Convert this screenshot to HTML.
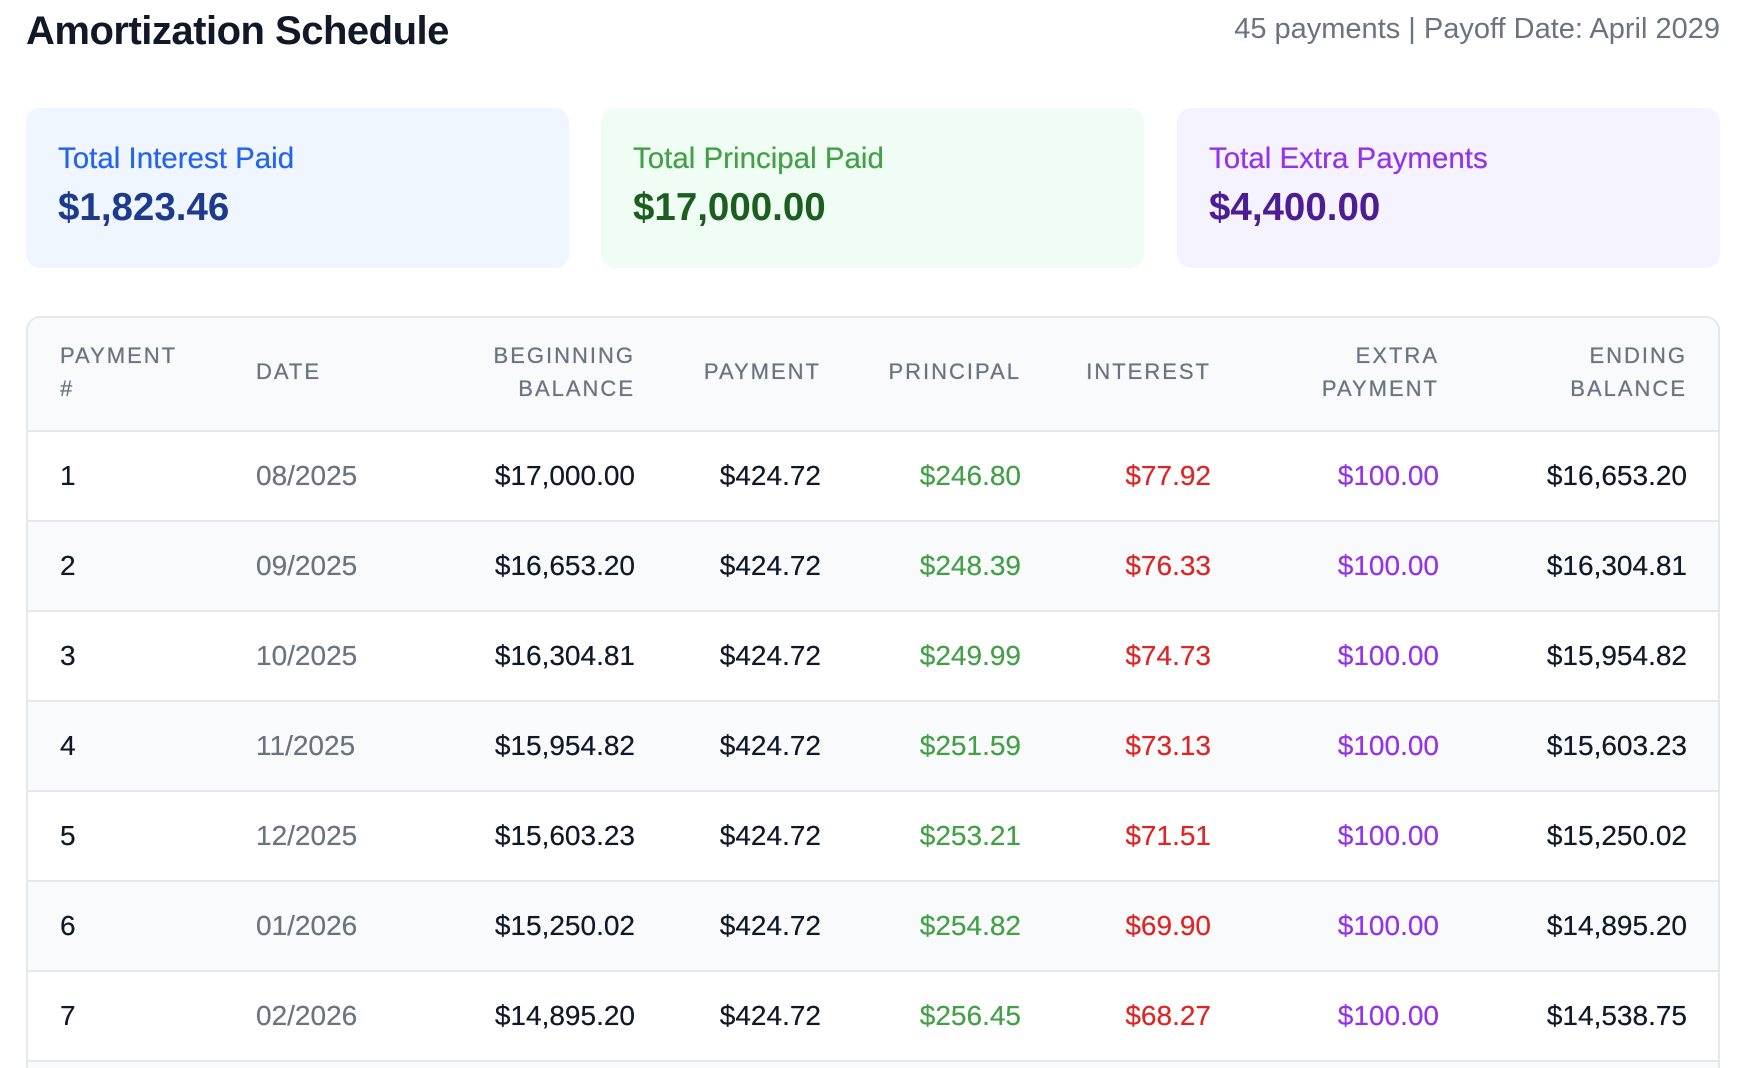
<!DOCTYPE html>
<html><head><meta charset="utf-8"><style>
*{margin:0;padding:0;box-sizing:border-box}
html,body{width:1756px;height:1068px;overflow:hidden}
body{background:#fff;font-family:"Liberation Sans",sans-serif;position:relative;color:#111827}
.abs{position:absolute;white-space:nowrap}
h1{position:absolute;left:26px;top:9px;font-size:40px;font-weight:bold;color:#111827;letter-spacing:-0.5px}
.meta{right:36px;top:13px;font-size:29px;color:#6b7280}
.card{position:absolute;top:108px;height:160px;width:543px;border-radius:14px}
.card .l{position:absolute;left:32px;top:34px;font-size:29.5px;text-shadow:0 0 0.5px currentColor}
.card .v{position:absolute;left:32px;top:78px;font-size:38.5px;font-weight:bold}
.tbl{position:absolute;left:26px;top:316px;width:1694px;height:752px;border:2px solid #e5e7eb;border-bottom:none;border-radius:14px 14px 0 0;overflow:hidden}
.hd{position:absolute;left:0;top:0;width:100%;height:114px;background:#f8fafc;border-bottom:2px solid #e5e7eb}
.h{position:absolute;font-size:22px;letter-spacing:2px;color:#6b7280;line-height:33px;text-shadow:0 0 0.6px #6b7280}
.row{position:absolute;left:0;width:100%;height:90px;border-bottom:2px solid #e5e7eb}
.row span{position:absolute;top:28px;font-size:28px;line-height:32px;text-shadow:0 0 0.4px currentColor}
.r{text-align:right}
</style></head><body>
<h1>Amortization Schedule</h1>
<div class="abs meta">45 payments | Payoff Date: April 2029</div>
<div class="card" style="left:26px;background:#eff6ff"><div class="l" style="color:#2563eb">Total Interest Paid</div><div class="v" style="color:#1e3a8a">$1,823.46</div></div>
<div class="card" style="left:601px;background:#f0fdf4"><div class="l" style="color:#43a047">Total Principal Paid</div><div class="v" style="color:#1b5e20">$17,000.00</div></div>
<div class="card" style="left:1177px;background:#f5f3ff"><div class="l" style="color:#9333ea">Total Extra Payments</div><div class="v" style="color:#4c1d95">$4,400.00</div></div>
<div class="tbl" id="t">
<div class="hd">
<div class="h" style="left:32px;top:21px">PAYMENT<br>#</div>
<div class="h" style="left:228px;top:37px">DATE</div>
<div class="h r" style="right:1083px;top:21px">BEGINNING<br>BALANCE</div>
<div class="h r" style="right:897px;top:37px">PAYMENT</div>
<div class="h r" style="right:697px;top:37px">PRINCIPAL</div>
<div class="h r" style="right:507px;top:37px">INTEREST</div>
<div class="h r" style="right:279px;top:21px">EXTRA<br>PAYMENT</div>
<div class="h r" style="right:31px;top:21px">ENDING<br>BALANCE</div>
</div>
</div>
<script>
var d=[["1","08/2025","$17,000.00","$246.80","$77.92","$16,653.20"],["2","09/2025","$16,653.20","$248.39","$76.33","$16,304.81"],["3","10/2025","$16,304.81","$249.99","$74.73","$15,954.82"],["4","11/2025","$15,954.82","$251.59","$73.13","$15,603.23"],["5","12/2025","$15,603.23","$253.21","$71.51","$15,250.02"],["6","01/2026","$15,250.02","$254.82","$69.90","$14,895.20"],["7","02/2026","$14,895.20","$256.45","$68.27","$14,538.75"],["8","03/2026","$14,538.75","$258.08","$66.64","$14,180.67"]];
var t=document.getElementById('t'),h='';
d.forEach(function(r,i){h+='<div class="row" style="top:'+(114+i*90)+'px;background:'+(i%2?'#f9fafb':'#fff')+'">'+
'<span style="left:32px">'+r[0]+'</span><span style="left:228px;color:#6b7280">'+r[1]+'</span>'+
'<span class="r" style="right:1083px">'+r[2]+'</span><span class="r" style="right:897px">$424.72</span>'+
'<span class="r" style="right:697px;color:#43a047">'+r[3]+'</span><span class="r" style="right:507px;color:#dc2626">'+r[4]+'</span>'+
'<span class="r" style="right:279px;color:#9333ea">$100.00</span><span class="r" style="right:31px">'+r[5]+'</span></div>';});
t.insertAdjacentHTML('beforeend',h);
</script>
</body></html>
